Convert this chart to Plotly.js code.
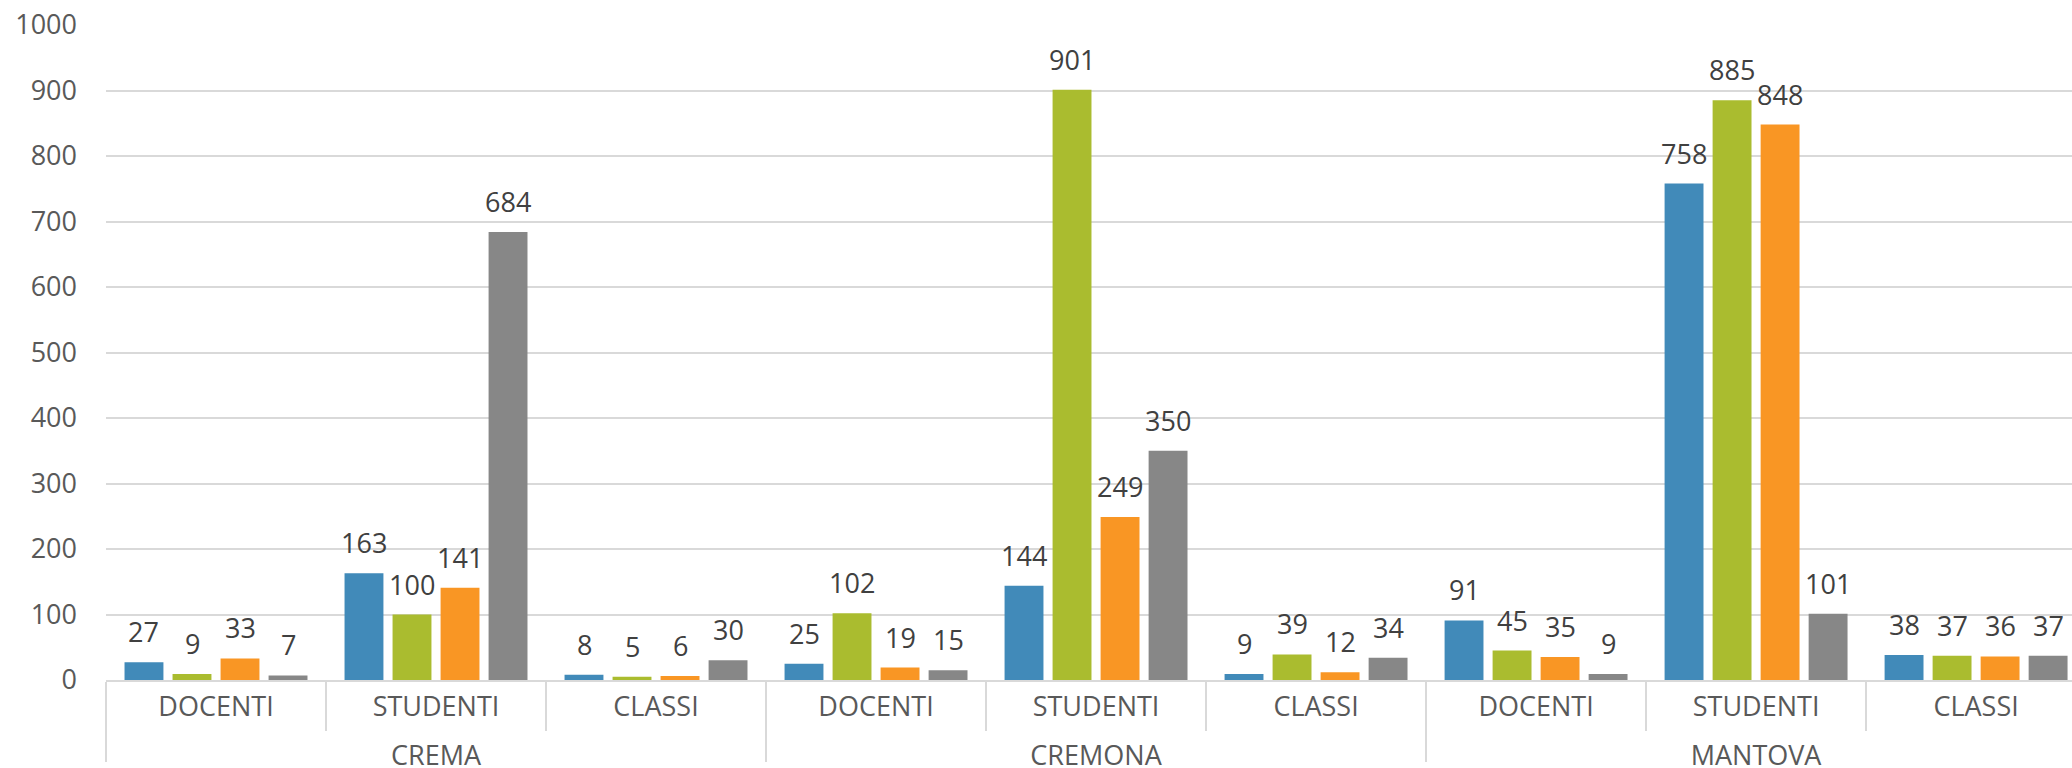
<!DOCTYPE html>
<html>
<head>
<meta charset="utf-8">
<script src="https://cdn.plot.ly/plotly-3.0.1.min.js"></script>
<style>html,body{margin:0;padding:0;background:#fff;}#chart{width:2072px;height:768px;}</style>
</head>
<body>
<div id="chart"></div>
<script>
// Outer / inner categories
const cities = ["CREMA", "CREMA", "CREMA", "CREMONA", "CREMONA", "CREMONA", "MANTOVA", "MANTOVA", "MANTOVA"];
const groups = ["DOCENTI", "STUDENTI", "CLASSI", "DOCENTI", "STUDENTI", "CLASSI", "DOCENTI", "STUDENTI", "CLASSI"];

// Series values (blue, green, orange, gray)
const serie1 = [27, 163, 8, 25, 144, 9, 91, 758, 38];
const serie2 = [9, 100, 5, 102, 901, 39, 45, 885, 37];
const serie3 = [33, 141, 6, 19, 249, 12, 35, 848, 36];
const serie4 = [7, 684, 30, 15, 350, 34, 9, 101, 37];
const seriesNames = ["Serie 1", "Serie 2", "Serie 3", "Serie 4"];
const yTicks = [0, 100, 200, 300, 400, 500, 600, 700, 800, 900, 1000];

const colors = ["#418ab9", "#aabc2f", "#f99624", "#878787"];
const allSeries = [serie1, serie2, serie3, serie4];
const FONT = "'Open Sans', 'Liberation Sans', sans-serif";
const bargap = 0.127;
const bargroupgap = 0.19;

const traces = allSeries.map((vals, j) => ({
  type: "bar",
  name: seriesNames[j],
  x: [cities, groups],
  y: vals,
  marker: { color: colors[j], line: { width: 0 } },
  hoverinfo: "y"
}));

// Data labels placed above each bar, using the axis scale (category index + group offset)
const slot = (1 - bargap) / allSeries.length;
const annotations = [];
allSeries.forEach((vals, j) => {
  vals.forEach((v, i) => {
    annotations.push({
      xref: "x", yref: "y",
      x: i + (j - (allSeries.length - 1) / 2) * slot,
      y: v,
      text: String(v),
      showarrow: false,
      xanchor: "center", yanchor: "bottom",
      yshift: 10,
      font: { family: FONT, size: 27, color: "#404040" }
    });
  });
});

const layout = {
  width: 2072, height: 768,
  margin: { l: 106, r: 0, t: 25, b: 88, pad: 0 },
  paper_bgcolor: "#ffffff", plot_bgcolor: "#ffffff",
  showlegend: false,
  barmode: "group",
  bargap: bargap,
  bargroupgap: bargroupgap,
  font: { family: FONT, size: 27, color: "#595959" },
  xaxis: {
    type: "multicategory",
    range: [-0.5, 8.436],
    autorange: false,
    showline: true, linecolor: "#d9d9d9", linewidth: 2,
    showgrid: false,
    ticks: "outside", tickson: "boundaries", ticklen: 49,
    tickcolor: "#d9d9d9", tickwidth: 2,
    ticklabelstandoff: 2,
    showdividers: true, dividercolor: "#d9d9d9", dividerwidth: 2,
    tickfont: { family: FONT, size: 27, color: "#595959" }
  },
  yaxis: {
    range: [0, 1000], autorange: false,
    tickvals: yTicks,
    ticktext: yTicks.map(String),
    showgrid: true, gridcolor: "#d9d9d9", gridwidth: 2,
    zeroline: false, showline: false, ticks: "",
    ticklabelstandoff: 28,
    tickfont: { family: FONT, size: 27, color: "#595959" }
  },
  annotations: annotations
};

Plotly.newPlot("chart", traces, layout, { displayModeBar: false, staticPlot: true }).then(function (gd) {
  // nudge the outer category level (city names) a little lower, as in the reference
  gd.querySelectorAll("g.xtick2").forEach(function (g) {
    g.setAttribute("transform", "translate(0,12)");
  });
});
</script>
</body>
</html>
